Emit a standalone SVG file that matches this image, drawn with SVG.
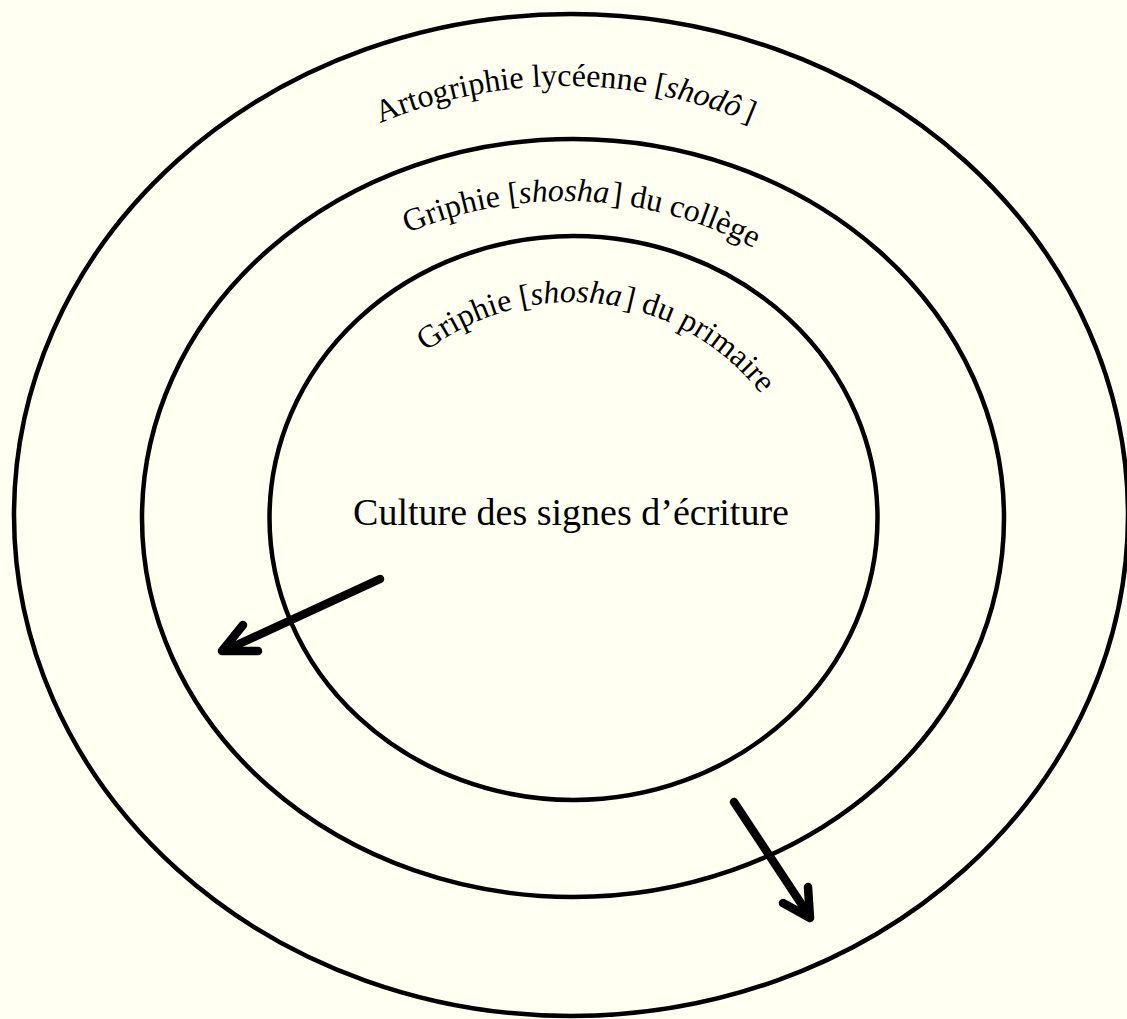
<svg xmlns="http://www.w3.org/2000/svg" width="1127" height="1019" viewBox="0 0 1127 1019">
  <style>
    .ring { fill: none; stroke: #000; stroke-width: 4.5; }
    .lbl { font-family: "Liberation Serif", "Times New Roman", serif; font-size: 32px; fill: #000; }
    .arrow { fill: none; stroke: #000; stroke-width: 8.5; stroke-linecap: round; stroke-linejoin: round; }
  </style>
  <defs>
    <path id="arcOuter" d="M149.8,326 A480,480 0 0,1 981.2,326"/>
    <path id="arcMiddle" d="M227.6,386.1 A400,400 0 0,1 919.8,416.3"/>
    <path id="arcInner" d="M381,396.7 A240,240 0 0,1 793.3,449.2"/>
  </defs>
  <rect x="0" y="0" width="1127" height="1019" fill="#FFFFF2"/>

  <g id="outer-ring">
    <ellipse class="ring" cx="571" cy="515" rx="557" ry="501"/>
    <text class="lbl"><textPath href="#arcOuter" startOffset="50%" text-anchor="middle">Artogriphie lycéenne [<tspan font-style="italic">shodô</tspan><tspan dx="4">]</tspan></textPath></text>
  </g>

  <g id="middle-ring">
    <ellipse class="ring" cx="573" cy="518" rx="431" ry="379"/>
    <text class="lbl"><textPath href="#arcMiddle" startOffset="50%" text-anchor="middle">Griphie [<tspan font-style="italic">shosha</tspan><tspan dx="2">] du collège</tspan></textPath></text>
  </g>

  <g id="inner-ring">
    <ellipse class="ring" cx="573.5" cy="518" rx="304" ry="282"/>
    <text class="lbl"><textPath href="#arcInner" startOffset="50%" text-anchor="middle">Griphie [<tspan font-style="italic">shosha</tspan><tspan dx="2">] du primaire</tspan></textPath></text>
  </g>

  <g id="center-label">
    <text x="571" y="525" text-anchor="middle" font-family="Liberation Serif, 'Times New Roman', serif" font-size="38">Culture des signes d’écriture</text>
  </g>

  <g id="connectors">
    <path class="arrow" d="M380,579 L226,650"/>
    <path class="arrow" d="M243,625 L222,651 L258,651"/>
    <path class="arrow" d="M734,802 L808,914"/>
    <path class="arrow" d="M783,903 L810,918 L808,887"/>
  </g>
</svg>
